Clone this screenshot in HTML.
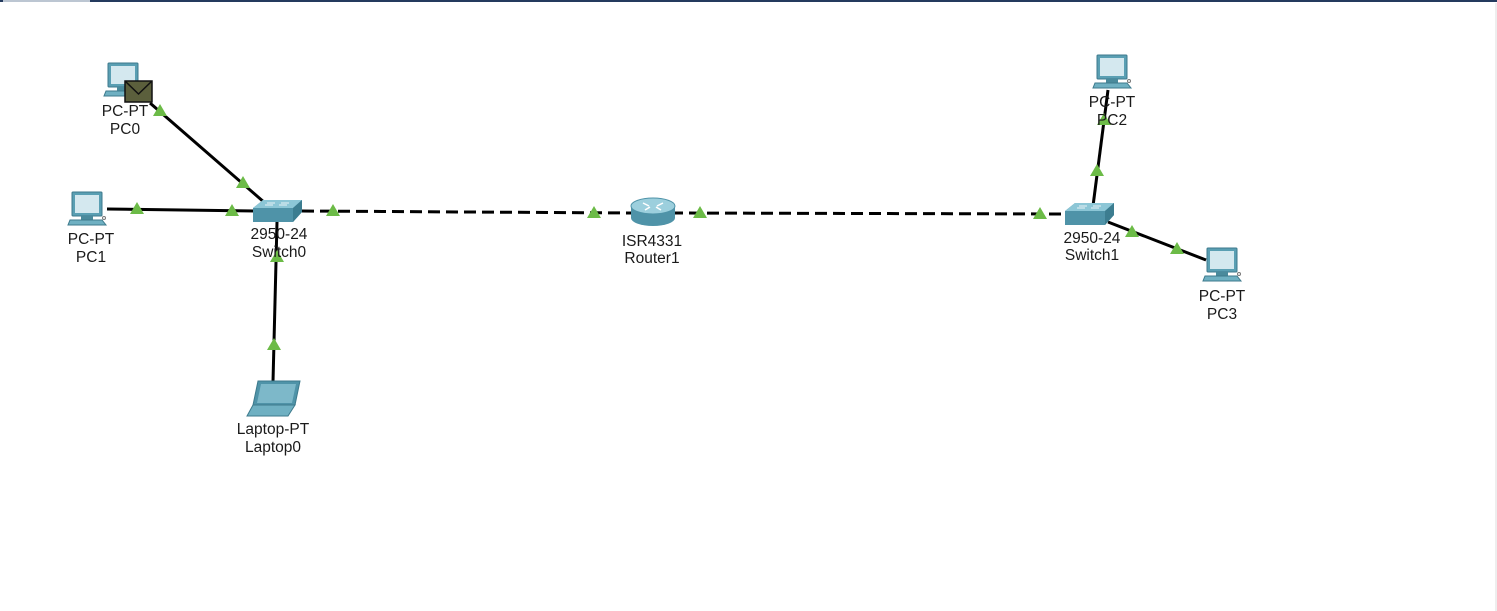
<!DOCTYPE html>
<html><head><meta charset="utf-8"><style>
html,body{margin:0;padding:0;background:#fff;width:1497px;height:611px;overflow:hidden}
svg{display:block}
text{font-family:"Liberation Sans",Arial,sans-serif;font-size:15.5px;fill:#1a1a1a;text-anchor:middle}
</style></head><body>
<svg width="1497" height="611" viewBox="0 0 1497 611">
<defs>
<g id="pc">
<rect x="4" y="0" width="30" height="24" rx="1" fill="#5a9fb3" stroke="#3d7a8c"/>
<rect x="7" y="3" width="24" height="18" fill="#d4e8ef"/>
<rect x="13" y="24" width="12" height="4" fill="#4a8a9c"/>
<path d="M2 28 L34 28 L38 33 L0 33 Z" fill="#6fb0c2" stroke="#3d7a8c"/>
<circle cx="36" cy="26" r="1.5" fill="none" stroke="#777"/>
</g>
<g id="tri"><path d="M0 -7 L7 5 L-7 5 Z" fill="#6cbb47"/></g>
<g id="sw">
<path d="M0 8 L10 0 L49 0 L49 12 L40 22 L0 22 Z" fill="#4f93a8"/>
<path d="M0 8 L10 0 L49 0 L40 8 Z" fill="#8cc6d6"/>
<path d="M40 8 L49 0 L49 12 L40 22 Z" fill="#3c7d90"/>
<path d="M14 3 h8 M28 3 h8 M12 5 h8 M26 5 h8" stroke="#e8f3f7" stroke-width="1"/>
</g>
</defs>
<rect x="0" y="0" width="1497" height="2" fill="#243a5e"/>
<rect x="3" y="0" width="87" height="2" fill="#bcc6d2"/>
<rect x="1495" y="3" width="2" height="608" fill="#eee"/>

<g stroke="#000" stroke-width="3" fill="none">
<line x1="150" y1="103" x2="265" y2="203"/>
<line x1="107" y1="209" x2="256" y2="211"/>
<line x1="277" y1="222" x2="273" y2="382"/>
<line x1="302" y1="211" x2="634" y2="213" stroke-dasharray="12,6"/>
<line x1="671" y1="213" x2="1066" y2="214" stroke-dasharray="12,6"/>
<line x1="1093" y1="206" x2="1108" y2="90"/>
<line x1="1108" y1="222" x2="1206" y2="260"/>
</g>

<use href="#pc" x="104" y="63"/>
<rect x="125" y="81" width="27" height="21" fill="#5b5f3c" stroke="#111" stroke-width="1.5"/>
<path d="M125 81 L138.5 94 L152 81" fill="none" stroke="#111" stroke-width="1.5"/>
<use href="#pc" x="68" y="192"/>
<use href="#pc" x="1093" y="55"/>
<use href="#pc" x="1203" y="248"/>
<use href="#sw" x="253" y="200"/>
<use href="#sw" x="1065" y="203"/>

<g>
<path d="M631 206 v12 a22 8 0 0 0 44 0 v-12 Z" fill="#4f93a8"/>
<ellipse cx="653" cy="206" rx="22" ry="8" fill="#9ccfdd" stroke="#4f93a8"/>
<path d="M643 203 l6 3 M663 203 l-6 3 M645 210 l5 -3 M661 210 l-5 -3" stroke="#fff" stroke-width="1.5"/>
</g>

<g>
<path d="M258 381 L300 381 L295 405 L253 405 Z" fill="#4f93a8" stroke="#3d7a8c"/>
<path d="M261 384 L296 384 L292 403 L257 403 Z" fill="#7db8c9"/>
<path d="M253 405 L295 405 L288 416 L247 416 Z" fill="#6fb0c2" stroke="#3d7a8c"/>
</g>

<use href="#tri" x="160" y="111"/>
<use href="#tri" x="243" y="183"/>
<use href="#tri" x="137" y="209"/>
<use href="#tri" x="232" y="211"/>
<use href="#tri" x="333" y="211"/>
<use href="#tri" x="594" y="213"/>
<use href="#tri" x="700" y="213"/>
<use href="#tri" x="1040" y="214"/>
<use href="#tri" x="1097" y="171"/>
<use href="#tri" x="1104" y="120"/>
<use href="#tri" x="1132" y="232"/>
<use href="#tri" x="1177" y="249"/>
<use href="#tri" x="277" y="257"/>
<use href="#tri" x="274" y="345"/>

<text x="125" y="116">PC-PT</text><text x="125" y="134">PC0</text>
<text x="91" y="244">PC-PT</text><text x="91" y="262">PC1</text>
<text x="279" y="239">2950-24</text><text x="279" y="257">Switch0</text>
<text x="652" y="246">ISR4331</text><text x="652" y="263">Router1</text>
<text x="1092" y="243">2950-24</text><text x="1092" y="260">Switch1</text>
<text x="1112" y="107">PC-PT</text><text x="1112" y="125">PC2</text>
<text x="1222" y="301">PC-PT</text><text x="1222" y="319">PC3</text>
<text x="273" y="434">Laptop-PT</text><text x="273" y="452">Laptop0</text>
</svg>
</body></html>
